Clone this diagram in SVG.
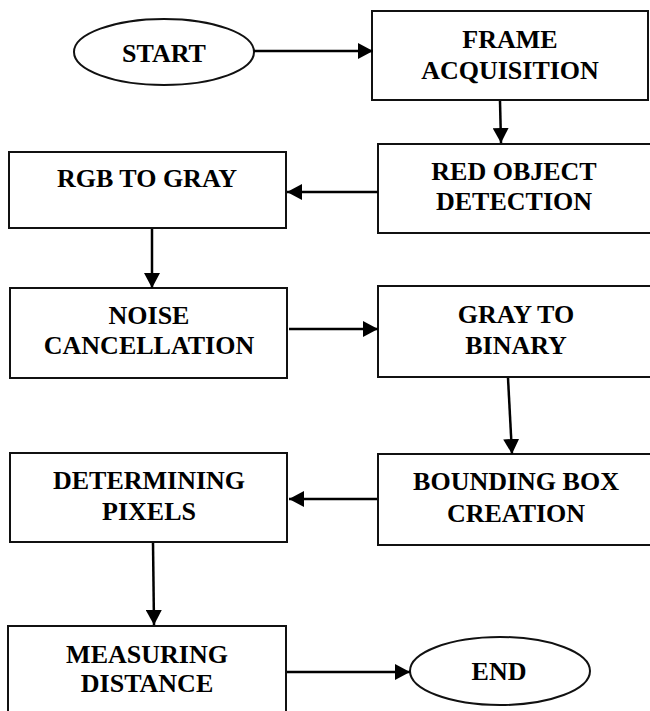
<svg xmlns="http://www.w3.org/2000/svg" width="650" height="711" viewBox="0 0 650 711">
<style>
  .box { fill: #ffffff; stroke: #111111; stroke-width: 2; }
  .term { fill: #ffffff; stroke: #111111; stroke-width: 2; }
  .lbl { font-family: "Liberation Serif", "Times New Roman", serif; font-weight: bold; font-size: 26px; fill: #000000; text-anchor: middle; }
  .conn { stroke: #000000; stroke-width: 2.5; fill: none; marker-end: url(#arrow); }
</style>
<defs>
  <marker id="arrow" markerUnits="userSpaceOnUse" markerWidth="16" markerHeight="16" refX="15" refY="8" orient="auto">
    <path d="M0,0 L15,8 L0,16 Z" fill="#000000"/>
  </marker>
</defs>
<rect width="650" height="711" fill="#ffffff"/>

<g id="start">
  <ellipse class="term" cx="164" cy="52" rx="90" ry="33"/>
  <text class="lbl" x="164" y="62">START</text>
</g>
<g id="frame-acquisition">
  <rect class="box" x="372" y="11" width="276" height="89"/>
  <text class="lbl" x="510" y="48">FRAME</text>
  <text class="lbl" x="510" y="79">ACQUISITION</text>
</g>
<g id="red-object-detection">
  <rect class="box" x="378" y="144" width="273" height="89"/>
  <text class="lbl" x="514" y="180">RED OBJECT</text>
  <text class="lbl" x="514" y="210">DETECTION</text>
</g>
<g id="rgb-to-gray">
  <rect class="box" x="9" y="152" width="277" height="76"/>
  <text class="lbl" x="147" y="187">RGB TO GRAY</text>
</g>
<g id="noise-cancellation">
  <rect class="box" x="10" y="288" width="277" height="90"/>
  <text class="lbl" x="149" y="324">NOISE</text>
  <text class="lbl" x="149" y="354">CANCELLATION</text>
</g>
<g id="gray-to-binary">
  <rect class="box" x="378" y="286" width="273" height="91"/>
  <text class="lbl" x="516" y="323">GRAY TO</text>
  <text class="lbl" x="516" y="354">BINARY</text>
</g>
<g id="bounding-box-creation">
  <rect class="box" x="378" y="454" width="273" height="91"/>
  <text class="lbl" x="516" y="490">BOUNDING BOX</text>
  <text class="lbl" x="516" y="522">CREATION</text>
</g>
<g id="determining-pixels">
  <rect class="box" x="10" y="453" width="277" height="89"/>
  <text class="lbl" x="149" y="489">DETERMINING</text>
  <text class="lbl" x="149" y="520">PIXELS</text>
</g>
<g id="measuring-distance">
  <rect class="box" x="8" y="626" width="278" height="100"/>
  <text class="lbl" x="147" y="663">MEASURING</text>
  <text class="lbl" x="147" y="692">DISTANCE</text>
</g>
<g id="end">
  <ellipse class="term" cx="500" cy="671" rx="90" ry="34"/>
  <text class="lbl" x="499" y="680">END</text>
</g>

<g id="connectors">
  <line class="conn" x1="254" y1="51" x2="373" y2="51"/>
  <line class="conn" x1="500" y1="101" x2="501" y2="143"/>
  <line class="conn" x1="378" y1="192" x2="287" y2="192"/>
  <line class="conn" x1="152" y1="229" x2="152" y2="288"/>
  <line class="conn" x1="289" y1="329" x2="378" y2="329"/>
  <line class="conn" x1="508" y1="378" x2="512" y2="454"/>
  <line class="conn" x1="377" y1="499" x2="289" y2="499"/>
  <line class="conn" x1="153" y1="543" x2="154" y2="625"/>
  <line class="conn" x1="287" y1="672" x2="410" y2="672"/>
</g>
</svg>
